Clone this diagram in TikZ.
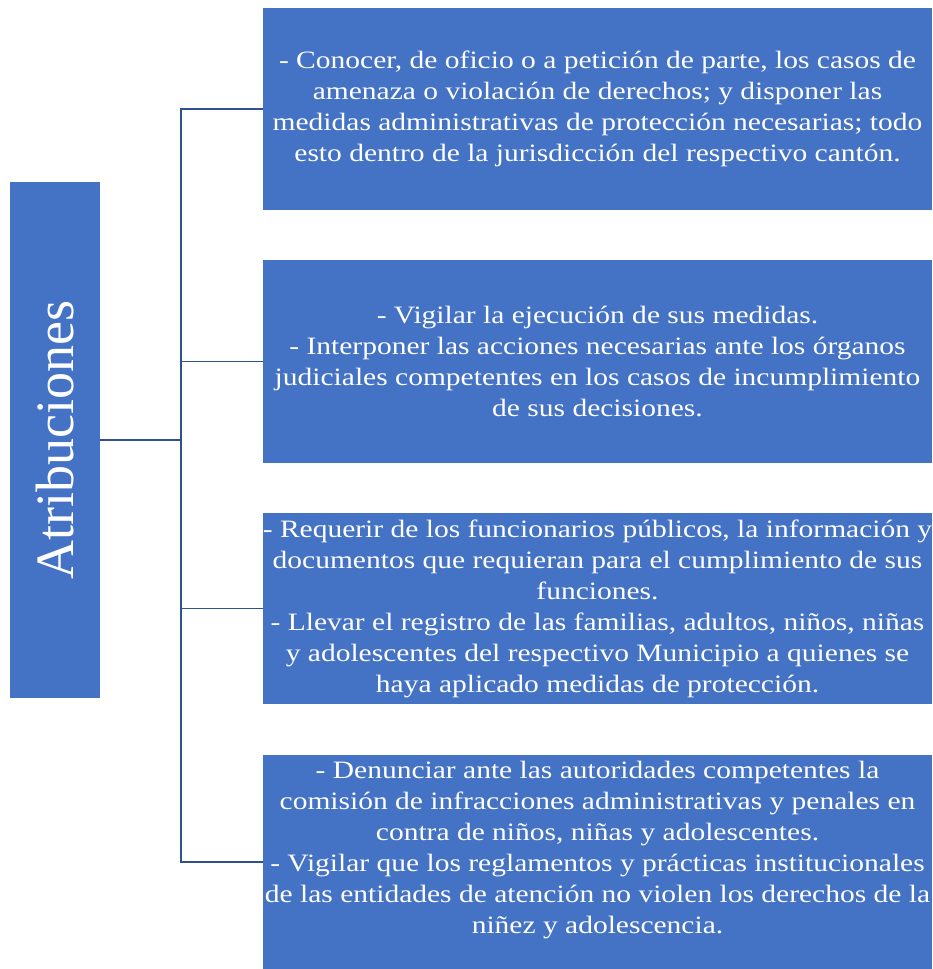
\documentclass[tikz,border=0pt]{standalone}
\usepackage{fontspec}
\setmainfont{Liberation Serif}[FakeStretch=1.18]
\newfontfamily\titlefont{Liberation Serif}
\definecolor{boxblue}{HTML}{4472C4}
\definecolor{lineblue}{HTML}{2F528F}
\begin{document}
\begin{tikzpicture}[x=1pt, y=-1pt,
    item/.style={fill=boxblue, text=white, align=center, inner sep=0pt,
        minimum width=669pt, font=\fontsize{25}{31}\selectfont},
    itemtext/.style={text=white, align=center, inner sep=0pt,
        font=\fontsize{25}{31}\selectfont},
    link/.style={draw=lineblue, line width=1.5pt}]
    \useasboundingbox (0,0) rectangle (932,969);
    \node[fill=boxblue, text=white, rotate=90, inner sep=0pt,
        minimum width=516pt, minimum height=90pt,
        font=\titlefont\fontsize{54}{60}\selectfont] (Atribuciones) at (55,440) {
        Atribuciones
    };
    \node[item, minimum height=202pt] (Conocer) at (597.5,109) {
        - Conocer, de oficio o a petición de parte, los casos de\\
        amenaza o violación de derechos; y disponer las\\
        medidas administrativas de protección necesarias; todo\\
        esto dentro de la jurisdicción del respectivo cantón.
    };
    \node[item, minimum height=203pt] (Vigilar) at (597.5,361.5) {
        - Vigilar la ejecución de sus medidas.\\
        - Interponer las acciones necesarias ante los órganos\\
        judiciales competentes en los casos de incumplimiento\\
        de sus decisiones.
    };
    \node[item, minimum height=191pt] (Requerir) at (597.5,608.5) {
        - Requerir de los funcionarios públicos, la información y\\
        documentos que requieran para el cumplimiento de sus\\
        funciones.\\
        - Llevar el registro de las familias, adultos, niños, niñas\\
        y adolescentes del respectivo Municipio a quienes se\\
        haya aplicado medidas de protección.
    };
    \node[item, minimum height=214pt] (Denunciar) at (597.5,862) {};
    \node[itemtext] (DenunciarText) at (597.5,850) {
        - Denunciar ante las autoridades competentes la\\
        comisión de infracciones administrativas y penales en\\
        contra de niños, niñas y adolescentes.\\
        - Vigilar que los reglamentos y prácticas institucionales\\
        de las entidades de atención no violen los derechos de la\\
        niñez y adolescencia.
    };
    \coordinate (spine) at (181,440);
    \draw[link] (Atribuciones) -- (spine);
    \foreach \b in {Conocer, Vigilar, Requerir, Denunciar}
        \draw[link] (spine) |- (\b);
\end{tikzpicture}
\end{document}
